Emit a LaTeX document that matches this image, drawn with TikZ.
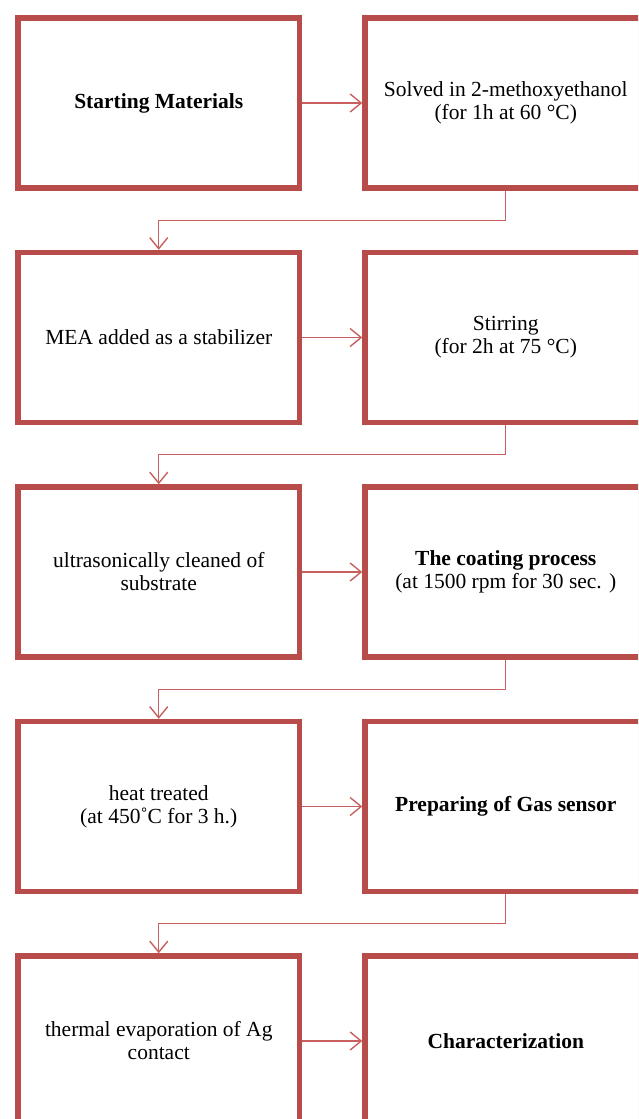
\documentclass[tikz,border=0pt]{standalone}
\usepackage{fontspec}
\setmainfont{Liberation Serif}
\usepackage{tikz}
\usetikzlibrary{arrows.meta,shadows}

\definecolor{boxred}{RGB}{184,76,74}
\definecolor{linkred}{RGB}{200,96,94}

\begin{document}
\begin{tikzpicture}[x=1pt,y=-1pt,
	stage/.style={draw=boxred,line width=5.5pt,fill=white,
		minimum width=281.5pt,minimum height=170pt,align=center,
		font=\fontsize{21.5}{23}\selectfont,
		drop shadow={shadow xshift=1.5pt,shadow yshift=-1.5pt,opacity=0.25}},
	flow/.style={draw=linkred,line width=1.4pt,
		-{Straight Barb[length=11pt,width=18pt,line width=1.4pt]}}]
	\clip (0,0) rectangle (638,1119);

	% left column
	\node [stage] (start) at (158.75,103)
	{\textbf{Starting Materials}};
	\node [stage] (mea) at (158.75,337.5)
	{MEA added as a stabilizer};
	\node [stage] (clean) at (158.75,572)
	{ultrasonically cleaned of\\substrate};
	\node [stage] (heat) at (158.75,806.5)
	{heat treated\\(at 450˚C for 3 h.)};
	\node [stage] (evap) at (158.75,1041)
	{thermal evaporation of Ag\\contact};

	% right column
	\node [stage] (solve) at (505.75,103)
	{Solved in 2-methoxyethanol\\(for 1h at 60 °C)};
	\node [stage] (stir) at (505.75,337.5)
	{Stirring\\(for 2h at 75 °C)};
	\node [stage] (coat) at (505.75,572)
	{\textbf{The coating process}\\(at 1500 rpm for 30 sec. )};
	\node [stage] (sensor) at (505.75,806.5)
	{\textbf{Preparing of Gas sensor}};
	\node [stage] (charac) at (505.75,1041)
	{\textbf{Characterization}};

	% across
	\draw [flow] (start) -- (solve);
	\draw [flow] (mea) -- (stir);
	\draw [flow] (clean) -- (coat);
	\draw [flow] (heat) -- (sensor);
	\draw [flow] (evap) -- (charac);

	% down to next row
	\draw [flow] (solve.south) -- ++(0,29.5) -| (mea.north);
	\draw [flow] (stir.south) -- ++(0,29.5) -| (clean.north);
	\draw [flow] (coat.south) -- ++(0,29.5) -| (heat.north);
	\draw [flow] (sensor.south) -- ++(0,29.5) -| (evap.north);
\end{tikzpicture}
\end{document}
